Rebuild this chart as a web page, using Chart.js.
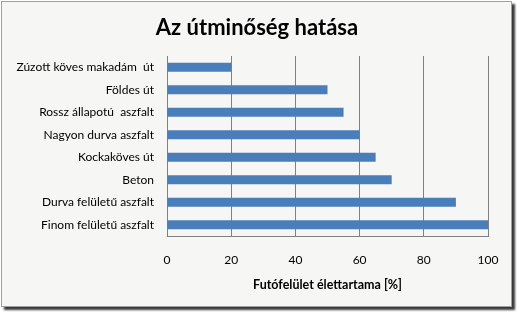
<!DOCTYPE html>
<html>
<head>
<meta charset="utf-8">
<script src="https://cdn.jsdelivr.net/npm/chart.js@4/dist/chart.umd.min.js"></script>
<style>
    body { margin: 0; background: #fff; }
    #frame {
        position: absolute; left: 1px; top: 1px; width: 509px; height: 304px;
        border: 1px solid #a0a0a0; background: #f6f6f4;
        box-shadow: 3px 3px 2px #3a3a3a;
    }
    #wrap { position: absolute; left: 0; top: 0; width: 521px; height: 316px; }
</style>
</head>
<body>
<div id="frame"></div>
<div id="wrap"><canvas id="chartRoad"></canvas></div>
<script>
var chartTitle = 'Az útminőség hatása';
var labels = [
    'Zúzott köves makadám  út',
    'Földes út',
    'Rossz állapotú  aszfalt',
    'Nagyon durva aszfalt',
    'Kockaköves út',
    'Beton',
    'Durva felületű aszfalt',
    'Finom felületű aszfalt'
];
var dataValue = [20, 50, 55, 60, 65, 70, 90, 100];
var xTicks = [0, 20, 40, 60, 80, 100];

var fontFamily = "Lato, 'Noto Sans', sans-serif";

// title drawn centred on the frame, not on the layout box
var titlePlugin = {
    id: 'frameTitle',
    afterDraw: function (chart) {
        var c = chart.ctx;
        c.save();
        c.font = 'bold 22px ' + fontFamily;
        c.fillStyle = '#000';
        c.textAlign = 'center';
        c.textBaseline = 'middle';
        c.fillText(chartTitle, 257, 28);
        c.restore();
    }
};

var ctx = document.getElementById('chartRoad');
var myBarChart = new Chart(ctx, {
    type: 'bar',
    data: {
        labels: labels,
        datasets: [{
            data: dataValue,
            backgroundColor: '#4a7ebb',
            barPercentage: 0.4,
            categoryPercentage: 1
        }]
    },
    plugins: [titlePlugin],
    options: {
        indexAxis: 'y',
        responsive: true,
        maintainAspectRatio: false,
        animation: false,
        layout: { padding: { top: 56, right: 33, bottom: 24, left: 0 } },
        plugins: {
            legend: { display: false },
            tooltip: { enabled: false }
        },
        scales: {
            x: {
                min: 0,
                max: 100,
                afterBuildTicks: function (axis) {
                    axis.ticks = xTicks.map(function (v) { return { value: v }; });
                },
                afterFit: function (axis) { axis.height = 56; },
                grid: { color: '#808080', drawTicks: false },
                border: { color: '#808080' },
                ticks: {
                    color: '#000',
                    padding: 17,
                    font: { family: fontFamily, size: 12 }
                },
                title: {
                    display: true,
                    text: 'Futófelület élettartama [%]',
                    color: '#000',
                    font: { family: fontFamily, size: 12.5, weight: 'bold' },
                    padding: { top: 0, bottom: 0 }
                }
            },
            y: {
                afterFit: function (axis) { axis.width = 167; },
                grid: { display: false, drawTicks: false },
                border: { color: '#808080' },
                ticks: {
                    color: '#000',
                    padding: 13,
                    font: { family: fontFamily, size: 12 }
                }
            }
        }
    }
});
</script>
</body>
</html>
